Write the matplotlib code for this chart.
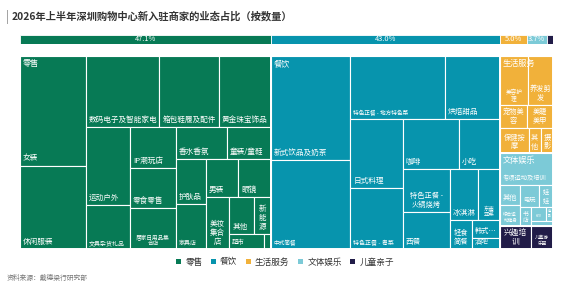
import matplotlib
matplotlib.use("Agg")
import matplotlib.pyplot as plt
from matplotlib.patches import Rectangle, Patch

plt.rcParams["font.family"] = ["Noto Sans CJK SC", "DejaVu Sans"]

TITLE = "2026年上半年深圳购物中心新入驻商家的业态占比（按数量）"
SOURCE = "资料来源：戴德梁行研究部"

CATEGORIES = ["零售", "餐饮", "生活服务", "文体娱乐", "儿童亲子"]
COLORS = ["#077a55", "#0794ad", "#f1b13a", "#7ccad7", "#211c48"]

RETAIL_NAMES = ["女装", "休闲服装", "数码电子及智能家电", "箱包鞋履及配件", "黄金珠宝饰品",
                "运动户外", "文具杂货礼品", "IP潮玩店", "零食零售", "居家日用品集合店",
                "香水香氛", "童装/童鞋", "护肤品", "家具店", "男装", "眼镜", "美妆集合店",
                "其他", "新能源", "超市", ""]
RETAIL_VALUES = [70, 53, 51, 41, 36, 34, 19, 18, 18, 18, 16, 14, 13, 13, 12, 12, 12, 9, 6, 5, 1]

FOOD_NAMES = ["新式饮品及奶茶", "中式简餐", "特色正餐 - 地方特色菜", "烘焙甜品", "日式料理",
              "特色正餐 - 粤菜", "咖啡", "小吃", "特色正餐 - 火锅烧烤", "西餐", "冰淇淋",
              "东南亚菜", "轻食简餐", "韩式料理", "酒吧"]
FOOD_VALUES = [80, 69, 58, 34, 35, 31, 27, 20, 20, 17, 14, 11, 6, 5, 3]

LIFE_NAMES = ["美容护理", "养发剪发", "宠物美容", "美睫美甲", "保健按摩", "其他", "摄影"]
LIFE_VALUES = [13, 12, 6, 6, 7, 3, 3]

FUN_NAMES = ["专项运动及培训", "其他", "综合运动健身", "电玩", "娃娃", "书店", "KTV", "电影", ""]
FUN_VALUES = [16, 4, 4, 4, 3, 2, 2, 1, 1]

KIDS_NAMES = ["兴趣培训", "儿童游乐园"]
KIDS_VALUES = [7, 5]

# strip layout: (items in strip, 'v' = stacked column / 'h' = side-by-side row)
TOP_STRIPS = [(1, "v"), (1, "v"), (1, "h"), (1, "h"), (1, "h")]
STRIPS = {
    "零售": [(2, "v"), (3, "h"), (2, "v"), (3, "v"), (2, "h"), (2, "v"), (2, "h"),
             (1, "v"), (2, "h"), (1, "v"), (1, "v")],
    "餐饮": [(2, "v"), (2, "h"), (2, "v"), (2, "h"), (2, "v"), (2, "h"), (1, "v"),
             (1, "h"), (1, "h")],
    "生活服务": [(2, "h"), (2, "h"), (3, "h")],
    "文体娱乐": [(1, "h"), (2, "v"), (2, "h"), (1, "v"), (2, "h"), (1, "h")],
    "儿童亲子": [(2, "h")],
}

# label style: (fontsize, text override, ha)
DEFAULT_LABEL = (5.5, None, "left")
LABEL_STYLE = {
    ("零售", "文具杂货礼品"): (4.3, None, "left"),
    ("零售", "居家日用品集合店"): (4.1, "居家日用品集\n合店", "center"),
    ("零售", "家具店"): (4.3, None, "left"),
    ("零售", "美妆集合店"): (5.4, "美妆\n集合\n店", "center"),
    ("零售", "新能源"): (5.4, "新\n能\n源", "center"),
    ("零售", "超市"): (4.6, None, "left"),
    ("餐饮", "中式简餐"): (4.1, None, "left"),
    ("餐饮", "特色正餐 - 地方特色菜"): (4.1, None, "left"),
    ("餐饮", "特色正餐 - 粤菜"): (4.3, None, "left"),
    ("餐饮", "特色正餐 - 火锅烧烤"): (5.2, "特色正餐 -\n火锅烧烤", "center"),
    ("餐饮", "东南亚菜"): (3.9, "东南\n亚菜", "center"),
    ("餐饮", "轻食简餐"): (5.2, "轻食\n简餐", "center"),
    ("餐饮", "韩式料理"): (5.2, "韩式…", "left"),
    ("餐饮", "酒吧"): (5.0, None, "left"),
    ("生活服务", "美容护理"): (4.1, "美容护\n理", "center"),
    ("生活服务", "养发剪发"): (5.2, "养发剪\n发", "center"),
    ("生活服务", "宠物美容"): (5.2, "宠物美\n容", "center"),
    ("生活服务", "美睫美甲"): (5.2, "美睫\n美甲", "center"),
    ("生活服务", "保健按摩"): (5.2, "保健按\n摩", "center"),
    ("生活服务", "其他"): (5.2, "其\n他", "center"),
    ("生活服务", "摄影"): (5.2, "摄\n影", "center"),
    ("文体娱乐", "专项运动及培训"): (4.5, None, "left"),
    ("文体娱乐", "其他"): (5.2, None, "left"),
    ("文体娱乐", "综合运动健身"): (3.3, "综合运\n动健身", "center"),
    ("文体娱乐", "电玩"): (4.5, None, "center"),
    ("文体娱乐", "娃娃"): (4.5, "娃\n娃", "center"),
    ("文体娱乐", "书店"): (4.2, "书\n店", "center"),
    ("文体娱乐", "KTV"): (2.3, None, "center"),
    ("文体娱乐", "电影"): (2.3, "电\n影", "center"),
    ("儿童亲子", "兴趣培训"): (5.6, "兴趣培\n训", "center"),
    ("儿童亲子", "儿童游乐园"): (3.3, "儿童游\n乐园", "center"),
}

W, H = 533.0, 193.0   # treemap box in pixel units


def strip_layout(values, strips, x, y, w, h):
    """Lay values out in strips; the last strip fills what is left."""
    total = float(sum(values))
    scale = w * h / total
    rects = []
    i = 0
    for k, (n, orient) in enumerate(strips):
        group = values[i:i + n]
        gsum = float(sum(group))
        last = k == len(strips) - 1
        if orient == "v":
            sw = w if last else gsum * scale / h
            yy = y
            for v in group:
                hh = h * v / gsum
                rects.append((x, yy, sw, hh))
                yy += hh
            x += sw
            w -= sw
        else:
            sh = h if last else gsum * scale / w
            xx = x
            for v in group:
                ww = w * v / gsum
                rects.append((xx, y, ww, sh))
                xx += ww
            y += sh
            h -= sh
        i += n
    return rects


children = {
    "零售": (RETAIL_NAMES, RETAIL_VALUES),
    "餐饮": (FOOD_NAMES, FOOD_VALUES),
    "生活服务": (LIFE_NAMES, LIFE_VALUES),
    "文体娱乐": (FUN_NAMES, FUN_VALUES),
    "儿童亲子": (KIDS_NAMES, KIDS_VALUES),
}
cat_totals = [sum(children[c][1]) for c in CATEGORIES]
grand = sum(cat_totals)
shares = [100.0 * t / grand for t in cat_totals]

fig = plt.figure(figsize=(5.7, 2.88), dpi=100)

# --- title ------------------------------------------------------------ #
fig.text(6 / 570, 1 - 16.5 / 288, "|", fontsize=8.5, color="#888888", va="center", ha="left")
fig.text(12 / 570, 1 - 16 / 288, TITLE, fontsize=7.4, fontweight="bold",
         color="#333333", va="center", ha="left")

# --- top 100% bar ------------------------------------------------------ #
axb = fig.add_axes([20 / 570, 1 - 44 / 288, 533 / 570, 9.5 / 288])
left = 0.0
for s, c in zip(shares, COLORS):
    axb.barh(0, s, left=left, height=1.0, color=c, edgecolor="white", linewidth=0.6)
    if s >= 3:
        axb.text(left + s / 2, 0, f"{s:.1f}%", ha="center", va="center",
                 color="white", fontsize=5.4)
    left += s
axb.set_xlim(0, 100)
axb.set_ylim(-0.5, 0.5)
axb.axis("off")

# --- treemap ---------------------------------------------------------- #
ax = fig.add_axes([20 / 570, 1 - 249 / 288, W / 570, H / 288])
ax.set_xlim(0, W)
ax.set_ylim(H, 0)
ax.axis("off")

cat_rects = strip_layout(cat_totals, TOP_STRIPS, 0, 0, W, H)
for cat, color, (cx, cy, cw, ch) in zip(CATEGORIES, COLORS, cat_rects):
    names, vals = children[cat]
    leaves = strip_layout(vals, STRIPS[cat], cx, cy, cw, ch)
    for name, (x, y, w, h) in zip(names, leaves):
        ax.add_patch(Rectangle((x, y), w, h, facecolor=color, edgecolor="white", linewidth=0.8))
        if not name:
            continue
        size, text, ha = LABEL_STYLE.get((cat, name), DEFAULT_LABEL)
        text = text or name
        tx = x + 2.8 if ha == "left" else x + w / 2
        ax.text(tx, y + h - 3, text, ha=ha, va="bottom", color="white", fontsize=size,
                linespacing=1.15, multialignment="center")
    ax.add_patch(Rectangle((cx, cy), cw, ch, fill=False, edgecolor="white", linewidth=1.4))
    if cat != "儿童亲子":
        ax.text(cx + 2.8, cy + 3, cat, ha="left", va="top", color="white", fontsize=5.9)

# --- legend & source ------------------------------------------------- #
handles = [Patch(facecolor=c, edgecolor="none", label=n) for n, c in zip(CATEGORIES, COLORS)]
fig.legend(handles=handles, loc="center", bbox_to_anchor=(0.5, 1 - 262 / 288), ncol=5,
           frameon=False, fontsize=6.2, handlelength=0.55, handleheight=0.55,
           handletextpad=0.5, columnspacing=1.0, labelcolor="#333333")
fig.text(7 / 570, 1 - 278 / 288, SOURCE, fontsize=4.9, color="#777777", va="center", ha="left")

fig.savefig("out.png", dpi=100)
